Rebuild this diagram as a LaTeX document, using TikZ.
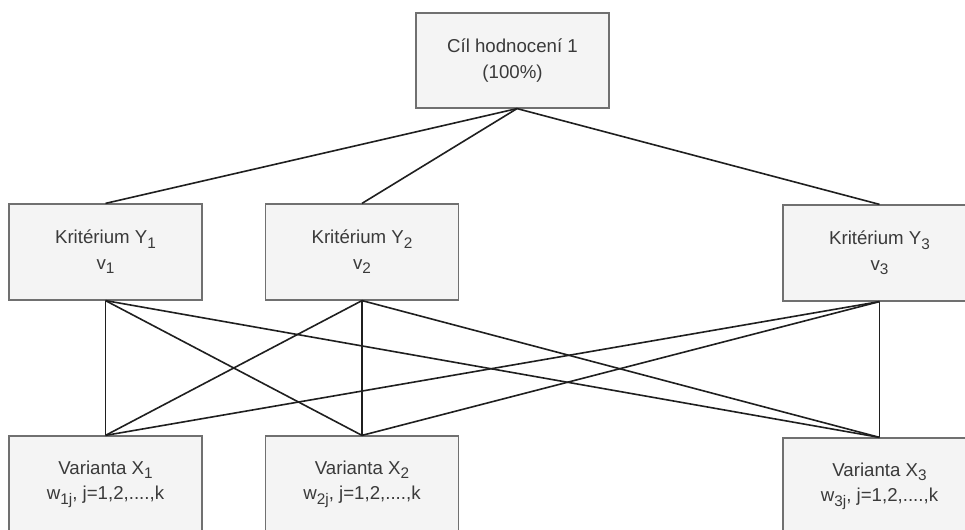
\documentclass[tikz,border=0pt]{standalone}
\usepackage{fontspec}
\setmainfont{Liberation Sans}
\definecolor{boxfill}{HTML}{F4F4F4}
\definecolor{boxline}{HTML}{707070}
\definecolor{txt}{HTML}{3A3A3A}
\newcommand\mysub[1]{\raisebox{-0.45ex}{\fontsize{11.5pt}{12pt}\selectfont #1}}
\begin{document}
\begin{tikzpicture}[x=0.75pt,y=-0.75pt,
  box/.style={draw=boxline, fill=boxfill, line width=0.9pt,
    minimum width=144.75pt, minimum height=72pt, align=center,
    text=txt, font=\fontsize{14pt}{19pt}\selectfont, inner sep=0pt},
  link/.style={draw=black!88, line width=1.2pt}]
\useasboundingbox (0,0) rectangle (965,530);
\clip (0,0) rectangle (965,530);
\fill[white] (0,0) rectangle (965,530);

\node[box, minimum height=71.25pt] (top) at (512.5,60.5) {Cíl hodnocení 1\\(100\%)};

\node[box] (y1) at (105.5,252) {Kritérium Y\mysub{1}\\v\mysub{1}};
\node[box] (y2) at (362,252) {Kritérium Y\mysub{2}\\v\mysub{2}};
\node[box] (y3) at (879.5,253) {Kritérium Y\mysub{3}\\v\mysub{3}};

\node[box] (x1) at (105.5,484) {Varianta X\mysub{1}\\w\mysub{1j}, j=1,2,....,k};
\node[box] (x2) at (362,484) {Varianta X\mysub{2}\\w\mysub{2j}, j=1,2,....,k};
\node[box] (x3) at (879.5,486) {Varianta X\mysub{3}\\w\mysub{3j}, j=1,2,....,k};

\coordinate (tb) at ([xshift=3.4pt]top.south);
\foreach \y in {y1,y2,y3}{
  \draw[link] (tb) -- (\y.north);
}
\foreach \y in {y1,y2,y3}{
  \foreach \x in {x1,x2,x3}{
    \draw[link] (\y.south) -- (\x.north);
  }
}
\end{tikzpicture}
\end{document}
